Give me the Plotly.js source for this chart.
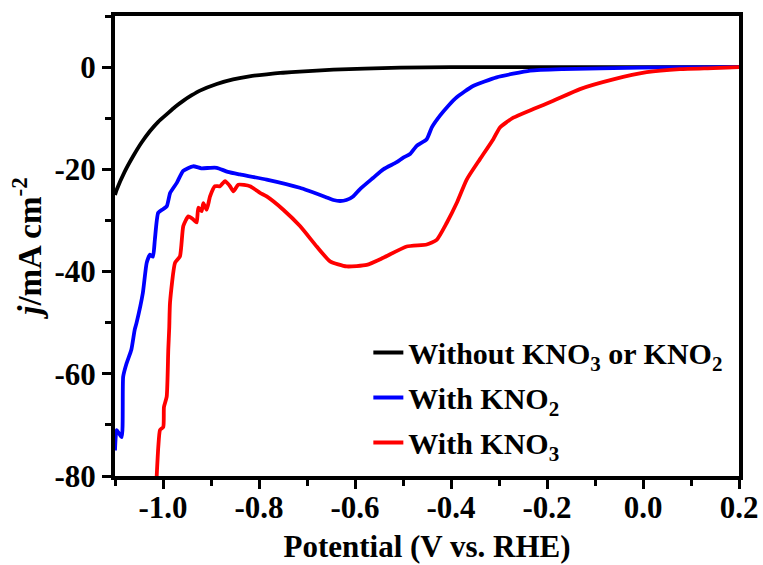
<!DOCTYPE html>
<html>
<head>
<meta charset="utf-8">
<script src="https://cdn.plot.ly/plotly-3.0.1.min.js"></script>
<style>html,body{margin:0;padding:0;background:#fff;}#chart{width:763px;height:565px;}</style>
</head>
<body>
<div id="chart"></div>
<script>
// Without KNO3 or KNO2
const xBlack = [-1.1, -1.0965, -1.08, -1.062, -1.045, -1.027, -1.01, -0.992, -0.975, -0.958, -0.94, -0.923, -0.888, -0.854, -0.82, -0.784, -0.75, -0.715, -0.645, -0.58, -0.506, -0.4, -0.3, -0.2, -0.1, 0, 0.1, 0.2];
const yBlack = [-25, -24, -20.5, -17.4, -14.8, -12.5, -10.7, -9.2, -7.8, -6.6, -5.5, -4.6, -3.3, -2.4, -1.8, -1.4, -1.1, -0.9, -0.5, -0.3, -0.1, 0, 0, 0, 0, 0, 0, 0];

// With KNO2
const xBlue = [-1.1, -1.0965, -1.086, -1.083, -1.076, -1.066, -1.059, -1.055, -1.042, -1.034, -1.027, -1.021, -1.017, -1.010, -1.000, -0.992, -0.985, -0.971, -0.958, -0.9375, -0.92, -0.902, -0.888, -0.865, -0.840, -0.784, -0.715, -0.659, -0.645, -0.631, -0.618, -0.604, -0.59, -0.5625, -0.541, -0.513, -0.4994, -0.4854, -0.4715, -0.4506, -0.44, -0.423, -0.405, -0.388, -0.354, -0.305, -0.235, -0.167, -0.0625, 0.05, 0.2];
const yBlue = [-75, -71, -72.4, -60.6, -58, -55.3, -51.4, -50, -44.2, -38.3, -36.7, -37.1, -33.8, -28.5, -27.8, -27.2, -24.6, -22.6, -20.3, -19.4, -19.8, -19.7, -19.7, -20.5, -21, -22, -23.6, -25.5, -26, -26.2, -26, -25.3, -23.9, -21.7, -20, -18.6, -17.7, -17.0, -15.4, -14.1, -11.8, -9.5, -7.5, -5.9, -3.7, -2, -0.7, -0.4, -0.2, -0.05, 0];

// With KNO3
const xRed = [-1.0131, -1.0098, -1.00625, -0.9994, -0.998, -0.9923, -0.989, -0.987, -0.9854, -0.975, -0.9646, -0.9577, -0.9473, -0.9369, -0.9298, -0.9265, -0.9194, -0.916, -0.909, -0.902, -0.8917, -0.8813, -0.8708, -0.8604, -0.8535, -0.8431, -0.8188, -0.7979, -0.784, -0.7494, -0.7146, -0.6798, -0.652, -0.6173, -0.5756, -0.541, -0.4923, -0.4506, -0.4298, -0.409, -0.3881, -0.3673, -0.3396, -0.3119, -0.298, -0.2702, -0.2285, -0.1869, -0.1313, -0.0619, 0.0077, 0.077, 0.1465, 0.2];
const yRed = [-80, -74.3, -71, -70.4, -66.5, -64.5, -55.3, -51, -46.1, -38.3, -37, -31.1, -29.2, -29.8, -30.4, -27.5, -28.2, -26.6, -27.9, -25.3, -23.3, -23.3, -22.3, -23.3, -24.3, -23, -23.3, -24.6, -25.3, -27.9, -31.1, -35.1, -38, -39, -38.7, -37.3, -35.1, -34.7, -33.8, -30.5, -26.6, -22, -18, -14.1, -11.8, -9.9, -8.2, -6.6, -4.3, -2.4, -1.0, -0.4, -0.2, 0];

const seriesNames = ['Without KNO<sub>3</sub> or KNO<sub>2</sub>', 'With KNO<sub>2</sub>', 'With KNO<sub>3</sub>'];
const seriesColors = ['#000000', '#0000ff', '#ff0000'];

const xTickVals = [-1.0, -0.8, -0.6, -0.4, -0.2, 0.0, 0.2];
const xTickText = ['-1.0', '-0.8', '-0.6', '-0.4', '-0.2', '0.0', '0.2'];
const yTickVals = [0, -20, -40, -60, -80];
const yTickText = ['0', '-20', '-40', '-60', '-80'];

const FONT = 'Liberation Serif, Times New Roman, serif';
const xs = [xBlack, xBlue, xRed];
const ys = [yBlack, yBlue, yRed];
const traces = xs.map((x, i) => ({
  x: x, y: ys[i], type: 'scatter', mode: 'lines',
  name: seriesNames[i], legendgroup: 'g' + i,
  line: {color: seriesColors[i], width: 3.8, shape: 'spline', smoothing: 0.5}
}));

const axisCommon = {
  showline: true, linecolor: '#000', linewidth: 4, mirror: true,
  ticks: 'outside', ticklen: 9, tickwidth: 3, tickcolor: '#000',
  showgrid: false, zeroline: false,
  tickfont: {family: FONT, size: 31, color: '#000', weight: 'bold'}
};

const layout = {
  width: 763, height: 565,
  margin: {l: 115, r: 24, t: 16, b: 89},
  paper_bgcolor: '#fff', plot_bgcolor: '#fff',
  showlegend: true,
  legend: {
    x: 0.406, y: 0.325, xanchor: 'left', yanchor: 'top',
    bgcolor: 'rgba(0,0,0,0)', borderwidth: 0, tracegroupgap: 3,
    font: {family: FONT, size: 30, color: '#000', weight: 'bold'}
  },
  xaxis: Object.assign({}, axisCommon, {
    range: [-1.1, 0.2], tickmode: 'array', tickvals: xTickVals, ticktext: xTickText,
    ticklabelstandoff: -8,
    minor: {dtick: 0.1, tick0: 0, ticks: 'outside', ticklen: 6, tickwidth: 3, tickcolor: '#000', showgrid: false},
    title: {text: 'Potential (V vs. RHE)', standoff: 12, font: {family: FONT, size: 31, color: '#000', weight: 'bold'}}
  }),
  yaxis: Object.assign({}, axisCommon, {
    range: [-80, 10], tickmode: 'array', tickvals: yTickVals, ticktext: yTickText,
    minor: {dtick: 10, tick0: 0, ticks: 'outside', ticklen: 6, tickwidth: 3, tickcolor: '#000', showgrid: false},
    title: {text: '<i>j</i>/mA cm<sup>-2</sup>', standoff: 4, font: {family: FONT, size: 33, color: '#000', weight: 'bold'}}
  })
};

Plotly.newPlot('chart', traces, layout, {displayModeBar: false, staticPlot: true});
</script>
</body>
</html>
